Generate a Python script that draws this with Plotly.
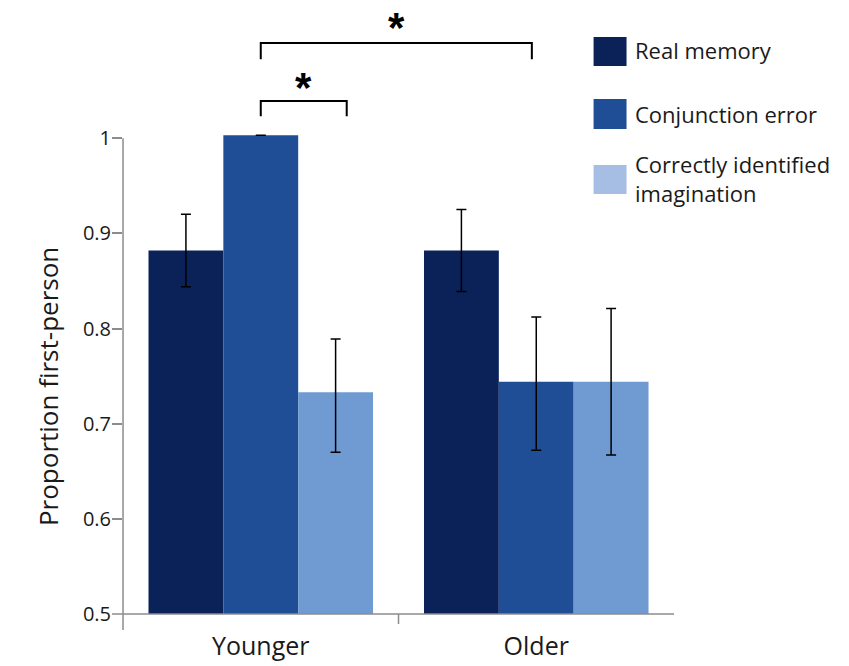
import plotly.graph_objects as go

# Data
groups = ["Younger", "Older"]
series_names = ["Real memory", "Conjunction error", "Correctly identified<br>imagination"]
real_memory = [0.882, 0.882]
conjunction_error = [1.003, 0.744]
imagination = [0.733, 0.744]
err_real_plus = [0.038, 0.043]
err_real_minus = [0.038, 0.043]
err_conj_plus = [0.0, 0.068]
err_conj_minus = [0.0, 0.072]
err_imag_plus = [0.056, 0.077]
err_imag_minus = [0.063, 0.077]
y_ticks = [0.5, 0.6, 0.7, 0.8, 0.9, 1.0]
y_tick_text = ["0.5", "0.6", "0.7", "0.8", "0.9", "1"]

bar_colors = ["#0b2259", "#1f4e97", "#6f9bd2"]
legend_colors = ["#0b2259", "#1f4e97", "#a6bee3"]
FONT = "Open Sans"
TEXT = "#1a1a1a"
AXIS_GRAY = "#8c8c8c"

# Figure geometry (pixels)
W, H = 849, 666
L, R, T, B = 112, 174.5, 5, 52
XR = [-0.54, 1.5]
YR = [0.5, 1.14]
PW, PH = W - L - R, H - T - B


def px_x(p):
    return (p - L) / PW


def px_y(p):
    return (H - B - p) / PH


def data_x(v):
    return (v - XR[0]) / (XR[1] - XR[0])


def data_y(v):
    return (v - YR[0]) / (YR[1] - YR[0])


fig = go.Figure()
values = [real_memory, conjunction_error, imagination]
plus = [err_real_plus, err_conj_plus, err_imag_plus]
minus = [err_real_minus, err_conj_minus, err_imag_minus]
for name, vals, col, ep, em in zip(series_names, values, bar_colors, plus, minus):
    fig.add_trace(go.Bar(
        x=[0, 1], y=vals, name=name, marker=dict(color=col, line=dict(width=0)),
        error_y=dict(type="data", symmetric=False, array=ep, arrayminus=em,
                     color="black", thickness=1.5, width=5),
        cliponaxis=False, showlegend=False,
    ))

shapes = []
# axis lines (paper coordinates so they can run past the plotting area)
shapes.append(dict(type="line", xref="paper", yref="paper", x0=data_x(-0.5), x1=data_x(-0.5),
                   y0=-16 / PH, y1=data_y(1.0), line=dict(color=AXIS_GRAY, width=1.5)))
shapes.append(dict(type="line", xref="paper", yref="paper", x0=0, x1=1, y0=0, y1=0,
                   line=dict(color=AXIS_GRAY, width=1.5)))
shapes.append(dict(type="line", xref="paper", yref="paper", x0=data_x(0.5), x1=data_x(0.5),
                   y0=0, y1=-10 / PH, line=dict(color=AXIS_GRAY, width=1.5)))

# significance brackets
bw = 0.272
brackets = [(0.0, 1.0 - 0.016, 1.083, 1.10, 1.116), (0.0, bw + 0.04, 1.023, 1.039, 1.053)]
for x0, x1, ylo, yhi, ystar in brackets:
    shapes.append(dict(type="path", xref="x", yref="y",
                       path=f"M {x0},{ylo} L {x0},{yhi} L {x1},{yhi} L {x1},{ylo}",
                       line=dict(color="black", width=2)))

# legend swatches
legend_rows = [(37, 66), (99, 129), (165, 194)]
for (ytop, ybot), col in zip(legend_rows, legend_colors):
    shapes.append(dict(type="rect", xref="paper", yref="paper",
                       x0=px_x(594), x1=px_x(627), y0=px_y(ybot), y1=px_y(ytop),
                       fillcolor=col, line=dict(width=0)))

annotations = []
for x0, x1, ylo, yhi, ystar in brackets:
    annotations.append(dict(x=(x0 + x1) / 2, y=ystar, xref="x", yref="y", text="<b>*</b>",
                            showarrow=False, font=dict(family="Arial", size=42, color="black"),
                            yanchor="middle"))

legend_y = [50, 114, 178]
for name, yc in zip(series_names, legend_y):
    annotations.append(dict(x=px_x(633), y=px_y(yc), xref="paper", yref="paper", text=name,
                            showarrow=False, xanchor="left", yanchor="middle", align="left",
                            font=dict(family=FONT, size=22, color=TEXT)))

annotations.append(dict(x=px_x(28), y=px_y(387), xref="paper", yref="paper",
                        text="Proportion first-person", textangle=-90, showarrow=False,
                        font=dict(family=FONT, size=26, color=TEXT)))

fig.update_layout(
    width=W, height=H,
    margin=dict(l=L, r=R, t=T, b=B, pad=0),
    paper_bgcolor="white", plot_bgcolor="white",
    barmode="group", bargap=0.185, bargroupgap=0,
    shapes=shapes, annotations=annotations,
    xaxis=dict(range=XR, tickvals=[0, 1], ticktext=groups, showgrid=False, zeroline=False,
               showline=False, ticks="outside", ticklen=10, tickcolor="rgba(0,0,0,0)",
               tickfont=dict(family=FONT, size=25, color=TEXT)),
    yaxis=dict(range=YR, tickvals=y_ticks, ticktext=y_tick_text, showgrid=False, zeroline=False,
               showline=False, ticks="inside", ticklen=10, tickwidth=1.5, tickcolor=AXIS_GRAY,
               tickfont=dict(family=FONT, size=20, color=TEXT)),
)

fig.write_html("out.html")
